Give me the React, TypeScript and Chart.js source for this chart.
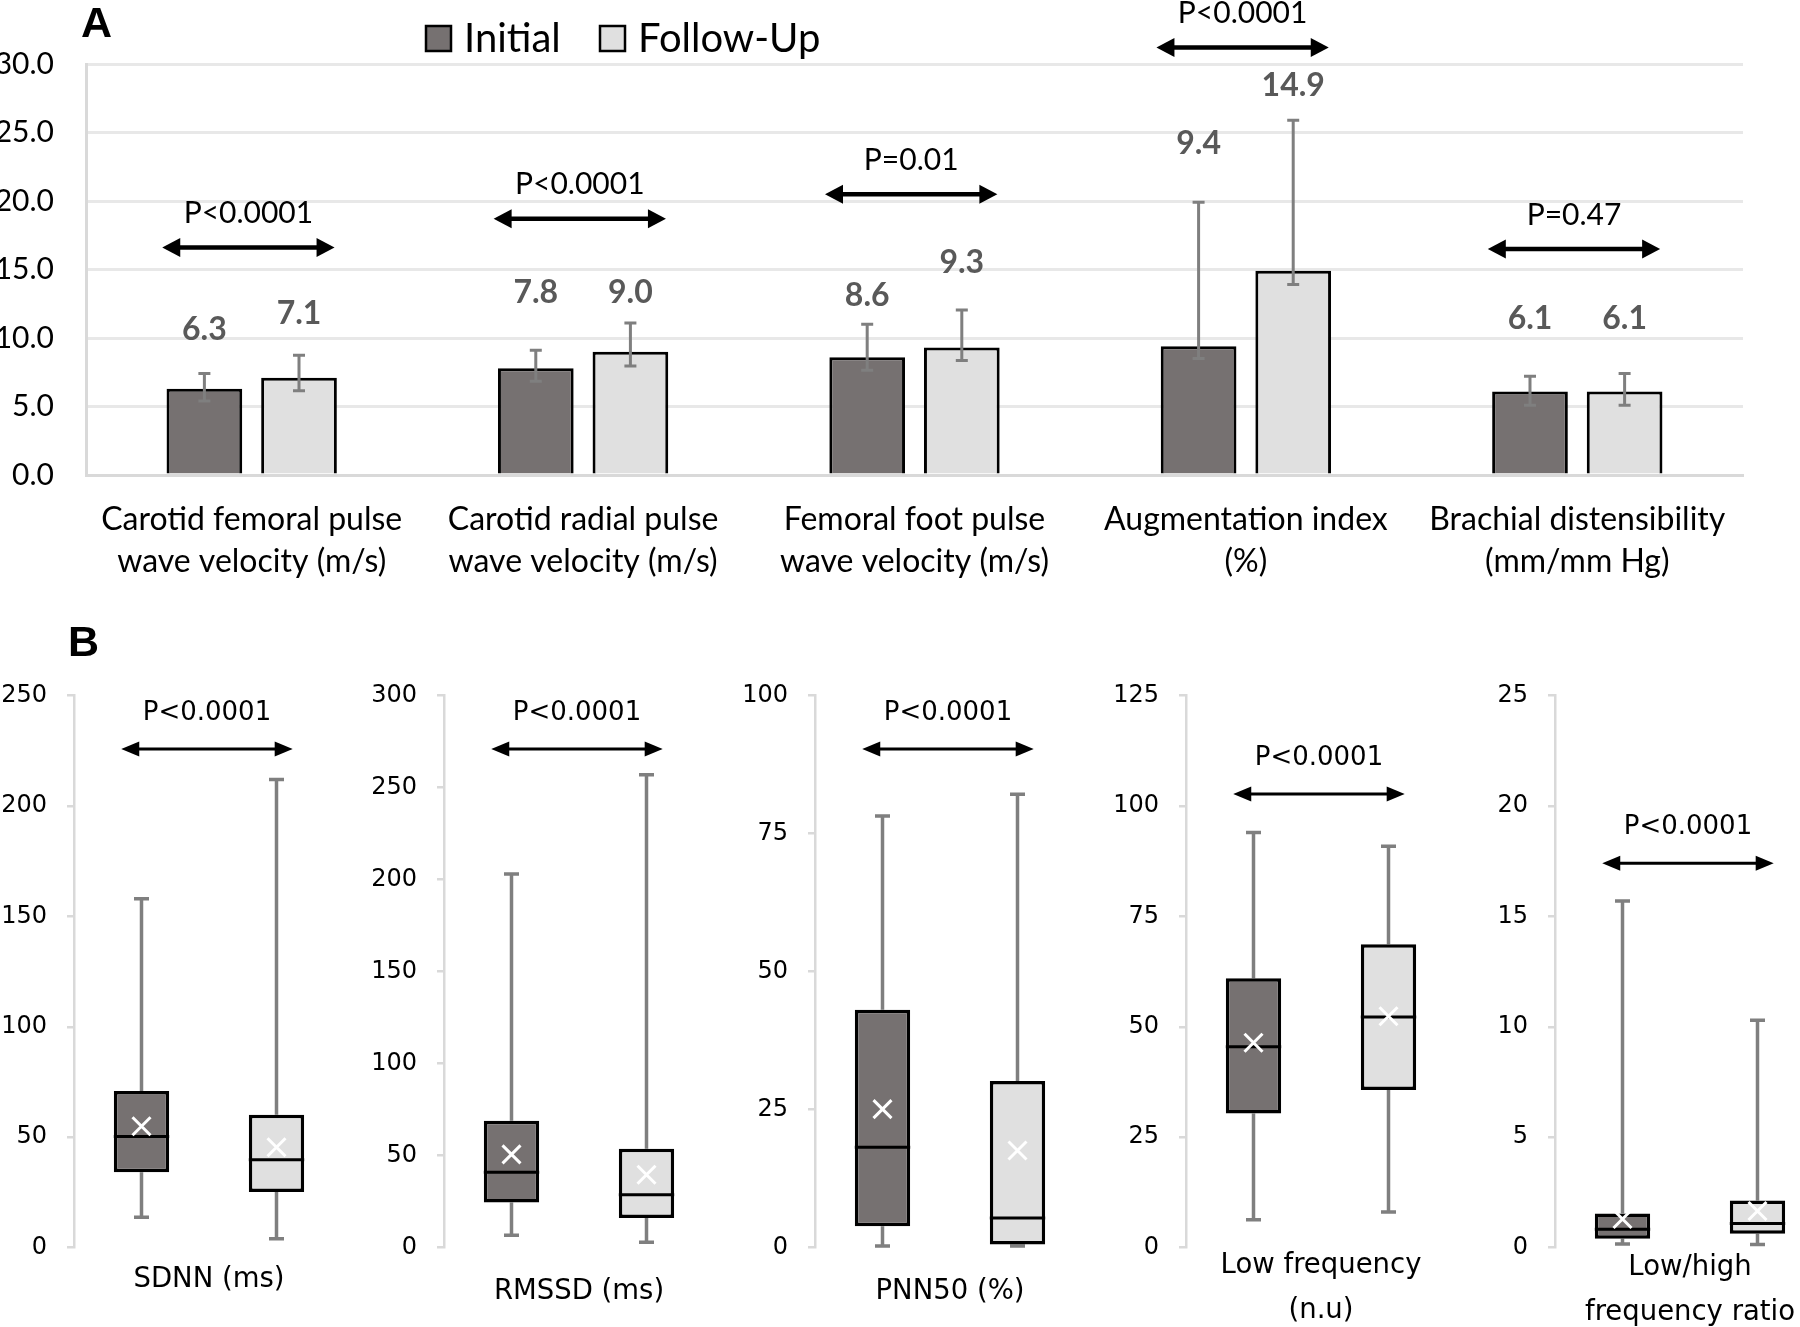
import React, { useEffect, useRef } from 'react';
import { Chart, registerables } from 'chart.js';

Chart.register(...registerables);

// ---------------- Panel A data ----------------
const categoriesA: string[][] = [
  ['Carotid femoral pulse', 'wave velocity (m/s)'],
  ['Carotid radial pulse', 'wave velocity (m/s)'],
  ['Femoral foot pulse', 'wave velocity (m/s)'],
  ['Augmentation index', '(%)'],
  ['Brachial distensibility', '(mm/mm Hg)'],
];
const seriesNames = ['Initial', 'Follow-Up'];
const initialMeans = [6.3, 7.8, 8.6, 9.4, 6.1];
const followUpMeans = [7.1, 9.0, 9.3, 14.9, 6.1];
const initialErrLow = [5.4, 6.85, 7.65, 8.5, 5.1];
const initialErrHigh = [7.4, 9.1, 11.0, 19.9, 7.2];
const followUpErrLow = [6.15, 7.95, 8.35, 13.9, 5.1];
const followUpErrHigh = [8.75, 11.1, 12.05, 25.9, 7.4];
const initialLabelLevel = [10.6, 13.3, 13.1, 24.2, 11.4];
const followUpLabelLevel = [11.8, 13.3, 15.5, 28.4, 11.4];
const pValuesA = ['P<0.0001', 'P<0.0001', 'P=0.01', 'P<0.0001', 'P=0.47'];
const pArrowLevelA = [16.6, 18.7, 20.5, 31.2, 16.5];
const yTickLabelsA = ['0.0', '5.0', '10.0', '15.0', '20.0', '25.0', '30.0'];

// ---------------- Panel B data ----------------
const boxTitles: string[][] = [
  ['SDNN (ms)'],
  ['RMSSD (ms)'],
  ['PNN50 (%)'],
  ['Low frequency', '(n.u)'],
  ['Low/high', 'frequency ratio'],
];
const boxYMax = [250, 300, 100, 125, 25];
const boxYStep = [50, 50, 25, 25, 5];
const yTickLabelsB: string[][] = [
  ['0', '50', '100', '150', '200', '250'],
  ['0', '50', '100', '150', '200', '250', '300'],
  ['0', '25', '50', '75', '100'],
  ['0', '25', '50', '75', '100', '125'],
  ['0', '5', '10', '15', '20', '25'],
];
const initialMin = [13.8, 6.8, 0.3, 6.3, 0.17];
const initialQ1 = [34.2, 24.5, 3.9, 30.4, 0.4];
const initialMedian = [50.3, 41, 18.2, 45.5, 0.84];
const initialQ3 = [71, 69, 43.1, 61, 1.55];
const initialMax = [158, 203, 78.2, 94, 15.7];
const initialMean = [55, 50.7, 25.1, 46.4, 1.3];
const followUpMin = [4, 3, 0.3, 8.1, 0.15];
const followUpQ1 = [25.2, 16.1, 0.6, 35.7, 0.63];
const followUpMedian = [39.8, 28.7, 5.4, 52.2, 1.09];
const followUpQ3 = [60.2, 53.7, 30.2, 68.7, 2.14];
const followUpMax = [212, 257, 82.1, 90.9, 10.3];
const followUpMean = [45.5, 39.6, 17.6, 52.4, 1.66];
const pValuesB = ['P<0.0001', 'P<0.0001', 'P<0.0001', 'P<0.0001', 'P<0.0001'];
const pArrowLevelB = [225.8, 271, 90.3, 102.7, 17.4];

// ---------------- styles / layout ----------------
const FONT_A = 'Lato, "Open Sans", sans-serif';
const FONT_B = '"DejaVu Sans", Verdana, sans-serif';
const FONT_BOLD_LETTER = '"Liberation Sans", Arial, sans-serif';
const DARK = '#767171';
const LIGHT = '#e0e0e0';
const WHISKER = '#7f7f7f';
const LABEL_GREY = '#595959';

const B_LEFT = [0, 370, 741, 1112, 1481];
const B_TOP = 600;
const B_W = 344;
const B_H = 760;
const B_TITLE_PAD = [57.5, 45.5, 45.5, 26, 24];

function drawArrow(ctx: CanvasRenderingContext2D, x1: number, x2: number, y: number, lw: number, headLen: number, headHalf: number) {
  ctx.save();
  ctx.strokeStyle = '#000';
  ctx.fillStyle = '#000';
  ctx.lineWidth = lw;
  ctx.beginPath();
  ctx.moveTo(x1 + headLen * 0.8, y);
  ctx.lineTo(x2 - headLen * 0.8, y);
  ctx.stroke();
  ctx.beginPath();
  ctx.moveTo(x1, y);
  ctx.lineTo(x1 + headLen, y - headHalf);
  ctx.lineTo(x1 + headLen, y + headHalf);
  ctx.closePath();
  ctx.fill();
  ctx.beginPath();
  ctx.moveTo(x2, y);
  ctx.lineTo(x2 - headLen, y - headHalf);
  ctx.lineTo(x2 - headLen, y + headHalf);
  ctx.closePath();
  ctx.fill();
  ctx.restore();
}

const panelAPlugin = {
  id: 'panelAExtras',
  afterDatasetsDraw(chart: any) {
    const ctx: CanvasRenderingContext2D = chart.ctx;
    const ys = chart.scales.y;
    const xs = chart.scales.x;
    const lows = [initialErrLow, followUpErrLow];
    const highs = [initialErrHigh, followUpErrHigh];
    const levels = [initialLabelLevel, followUpLabelLevel];
    ctx.save();
    chart.data.datasets.forEach((ds: any, di: number) => {
      const meta = chart.getDatasetMeta(di);
      meta.data.forEach((bar: any, i: number) => {
        const cx = bar.x;
        const yl = ys.getPixelForValue(lows[di][i]);
        const yh = ys.getPixelForValue(highs[di][i]);
        ctx.strokeStyle = WHISKER;
        ctx.lineWidth = 3;
        ctx.beginPath();
        ctx.moveTo(cx, yl);
        ctx.lineTo(cx, yh);
        ctx.moveTo(cx - 6, yl);
        ctx.lineTo(cx + 6, yl);
        ctx.moveTo(cx - 6, yh);
        ctx.lineTo(cx + 6, yh);
        ctx.stroke();
        ctx.fillStyle = LABEL_GREY;
        ctx.font = `bold 32px ${FONT_A}`;
        ctx.textAlign = 'center';
        ctx.textBaseline = 'middle';
        ctx.fillText(ds.data[i].toFixed(1), cx, ys.getPixelForValue(levels[di][i]));
      });
    });
    const sp = xs.getPixelForValue(1) - xs.getPixelForValue(0);
    pValuesA.forEach((p, i) => {
      const c = xs.getPixelForValue(i);
      const x1 = c - 0.27 * sp;
      const x2 = c + 0.25 * sp;
      const ay = ys.getPixelForValue(pArrowLevelA[i]);
      drawArrow(ctx, x1, x2, ay, 4.5, 18, 9.5);
      ctx.fillStyle = '#000';
      ctx.font = `30px ${FONT_A}`;
      ctx.textAlign = 'center';
      ctx.textBaseline = 'middle';
      ctx.fillText(p, (x1 + x2) / 2, ay - 34);
    });
    ctx.restore();
  },
  afterDraw(chart: any) {
    const ctx: CanvasRenderingContext2D = chart.ctx;
    ctx.save();
    // panel letter
    ctx.fillStyle = '#000';
    ctx.font = `bold 43px ${FONT_BOLD_LETTER}`;
    ctx.textAlign = 'left';
    ctx.textBaseline = 'alphabetic';
    ctx.fillText('A', 81, 37);
    // legend
    const legendX = [426, 600];
    chart.data.datasets.forEach((ds: any, di: number) => {
      const lx = legendX[di];
      ctx.fillStyle = ds.backgroundColor;
      ctx.fillRect(lx, 26, 25, 25);
      ctx.strokeStyle = '#000';
      ctx.lineWidth = 2.5;
      ctx.strokeRect(lx, 26, 25, 25);
      ctx.fillStyle = '#000';
      ctx.font = `40px ${FONT_A}`;
      ctx.textAlign = 'left';
      ctx.textBaseline = 'middle';
      ctx.fillText(ds.label, lx + 38, 39);
    });
    ctx.restore();
  },
};

function makeBoxPlugin(k: number) {
  const mins = [initialMin[k], followUpMin[k]];
  const maxs = [initialMax[k], followUpMax[k]];
  const q1s = [initialQ1[k], followUpQ1[k]];
  const q3s = [initialQ3[k], followUpQ3[k]];
  const meds = [initialMedian[k], followUpMedian[k]];
  const means = [initialMean[k], followUpMean[k]];
  return {
    id: 'boxExtras' + k,
    beforeDatasetsDraw(chart: any) {
      const ctx: CanvasRenderingContext2D = chart.ctx;
      const ys = chart.scales.y;
      const meta = chart.getDatasetMeta(0);
      ctx.save();
      ctx.strokeStyle = WHISKER;
      ctx.lineWidth = 3.5;
      meta.data.forEach((bar: any, i: number) => {
        const cx = bar.x;
        const yMin = ys.getPixelForValue(mins[i]);
        const yMax = ys.getPixelForValue(maxs[i]);
        const yQ1 = ys.getPixelForValue(q1s[i]);
        const yQ3 = ys.getPixelForValue(q3s[i]);
        ctx.beginPath();
        ctx.moveTo(cx, yQ3);
        ctx.lineTo(cx, yMax);
        ctx.moveTo(cx, yQ1);
        ctx.lineTo(cx, yMin);
        ctx.moveTo(cx - 7.5, yMax);
        ctx.lineTo(cx + 7.5, yMax);
        ctx.moveTo(cx - 7.5, yMin);
        ctx.lineTo(cx + 7.5, yMin);
        ctx.stroke();
      });
      ctx.restore();
    },
    afterDatasetsDraw(chart: any) {
      const ctx: CanvasRenderingContext2D = chart.ctx;
      const ys = chart.scales.y;
      const xs = chart.scales.x;
      const meta = chart.getDatasetMeta(0);
      ctx.save();
      meta.data.forEach((bar: any, i: number) => {
        const cx = bar.x;
        const hw = bar.width / 2;
        const yMed = ys.getPixelForValue(meds[i]);
        ctx.strokeStyle = '#000';
        ctx.lineWidth = 3;
        ctx.beginPath();
        ctx.moveTo(cx - hw, yMed);
        ctx.lineTo(cx + hw, yMed);
        ctx.stroke();
        const yMean = ys.getPixelForValue(means[i]);
        ctx.strokeStyle = '#fff';
        ctx.lineWidth = 3;
        ctx.beginPath();
        ctx.moveTo(cx - 9, yMean - 9);
        ctx.lineTo(cx + 9, yMean + 9);
        ctx.moveTo(cx - 9, yMean + 9);
        ctx.lineTo(cx + 9, yMean - 9);
        ctx.stroke();
      });
      const p0 = xs.getPixelForValue(0);
      const p1 = xs.getPixelForValue(1);
      const sp = p1 - p0;
      const x1 = p0 - 0.15 * sp;
      const x2 = p1 + 0.12 * sp;
      const ay = ys.getPixelForValue(pArrowLevelB[k]);
      drawArrow(ctx, x1, x2, ay, 3, 18, 7.5);
      ctx.fillStyle = '#000';
      ctx.font = `26px ${FONT_B}`;
      ctx.textAlign = 'center';
      ctx.textBaseline = 'middle';
      ctx.fillText(pValuesB[k], (x1 + x2) / 2, ay - 36);
      if (k === 0) {
        ctx.font = `bold 43px ${FONT_BOLD_LETTER}`;
        ctx.textAlign = 'left';
        ctx.textBaseline = 'alphabetic';
        ctx.fillText('B', 68, 56);
      }
      ctx.restore();
    },
  };
}

export default function App() {
  const refA = useRef<HTMLCanvasElement | null>(null);
  const refsB = useRef<(HTMLCanvasElement | null)[]>([]);

  useEffect(() => {
    const charts: Chart[] = [];
    if (refA.current) {
      charts.push(
        new Chart(refA.current, {
          type: 'bar',
          data: {
            labels: categoriesA as any,
            datasets: [
              {
                label: seriesNames[0],
                data: initialMeans,
                backgroundColor: DARK,
                borderColor: '#000',
                borderWidth: 3,
                barPercentage: 0.8,
                categoryPercentage: 0.571,
              },
              {
                label: seriesNames[1],
                data: followUpMeans,
                backgroundColor: LIGHT,
                borderColor: '#000',
                borderWidth: 3,
                barPercentage: 0.8,
                categoryPercentage: 0.571,
              },
            ],
          },
          options: {
            responsive: false,
            animation: false,
            layout: { padding: { top: 64, right: 57, left: 0, bottom: 0 } },
            plugins: { legend: { display: false }, tooltip: { enabled: false } },
            scales: {
              x: {
                grid: { display: false },
                border: { display: true, color: '#d9d9d9', width: 3 },
                ticks: {
                  font: { family: FONT_A, size: 32, lineHeight: 1.3 },
                  color: '#000',
                  padding: 16,
                  maxRotation: 0,
                  autoSkip: false,
                },
                afterFit: (s: any) => {
                  s.height = 125;
                },
              },
              y: {
                min: 0,
                max: 30,
                ticks: {
                  stepSize: 5,
                  callback: (_v: any, i: number) => yTickLabelsA[i],
                  font: { family: FONT_A, size: 30 },
                  color: '#000',
                  padding: 32,
                },
                grid: { color: '#e8e8e8', lineWidth: 3, drawTicks: false },
                border: { display: true, color: '#d9d9d9', width: 3 },
                afterFit: (s: any) => {
                  s.width = 86;
                },
              },
            },
          } as any,
          plugins: [panelAPlugin as any],
        })
      );
    }
    boxTitles.forEach((title, k) => {
      const cv = refsB.current[k];
      if (!cv) return;
      charts.push(
        new Chart(cv, {
          type: 'bar',
          data: {
            labels: seriesNames,
            datasets: [
              {
                data: [
                  [initialQ1[k], initialQ3[k]],
                  [followUpQ1[k], followUpQ3[k]],
                ] as any,
                backgroundColor: [DARK, LIGHT],
                borderColor: '#000',
                borderWidth: 3.5,
                borderSkipped: false,
                barPercentage: 0.41,
                categoryPercentage: 1,
              },
            ],
          },
          options: {
            responsive: false,
            animation: false,
            layout: { padding: { top: 95.5, right: 0, left: 0, bottom: 0 } },
            plugins: { legend: { display: false }, tooltip: { enabled: false } },
            scales: {
              x: {
                grid: { display: false },
                border: { display: false },
                ticks: { display: false },
                title: {
                  display: true,
                  text: title,
                  font: { family: FONT_B, size: 27.5, lineHeight: 1.65 },
                  color: '#000',
                  padding: { top: 0, bottom: B_TITLE_PAD[k] },
                },
                afterFit: (s: any) => {
                  s.height = B_H - 647.7;
                },
              },
              y: {
                min: 0,
                max: boxYMax[k],
                ticks: {
                  stepSize: boxYStep[k],
                  callback: (_v: any, i: number) => yTickLabelsB[k][i],
                  font: { family: FONT_B, size: 24 },
                  color: '#000',
                  padding: 20,
                },
                grid: { drawOnChartArea: false, drawTicks: true, tickLength: 7, color: '#d9d9d9', lineWidth: 2.5 },
                border: { display: true, color: '#d9d9d9', width: 2.5 },
                afterFit: (s: any) => {
                  s.width = 74;
                },
              },
            },
          } as any,
          plugins: [makeBoxPlugin(k) as any],
        })
      );
    });
    return () => {
      charts.forEach((c) => c.destroy());
    };
  }, []);

  return (
    <div
      style={{
        position: 'absolute',
        left: 0,
        top: 0,
        width: 1800,
        height: 1327,
        overflow: 'hidden',
        background: '#fff',
      }}
    >
      <canvas
        ref={refA}
        width={1800}
        height={600}
        style={{ position: 'absolute', left: 0, top: 0, width: 1800, height: 600 }}
      />
      {boxTitles.map((_t, k) => (
        <canvas
          key={k}
          ref={(el) => {
            refsB.current[k] = el;
          }}
          width={B_W}
          height={B_H}
          style={{ position: 'absolute', left: B_LEFT[k], top: B_TOP, width: B_W, height: B_H }}
        />
      ))}
    </div>
  );
}
